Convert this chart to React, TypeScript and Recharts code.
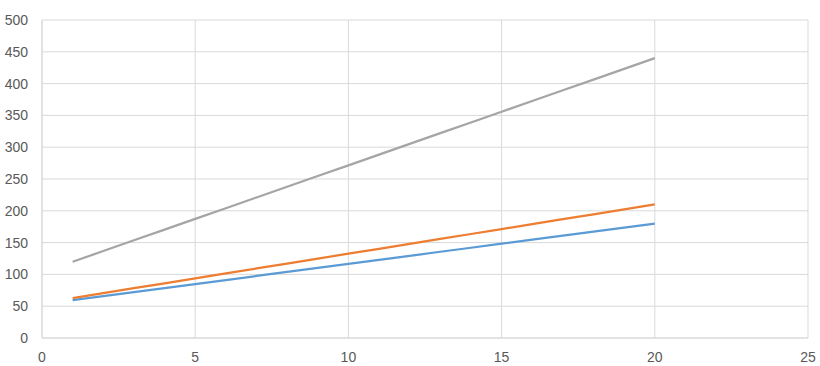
import { LineChart, Line, CartesianGrid, XAxis, YAxis } from "recharts";

const xValues = [1, 2, 3, 4, 5, 6, 7, 8, 9, 10, 11, 12, 13, 14, 15, 16, 17, 18, 19, 20];
const series1 = [59.4, 65.7, 72.1, 78.4, 84.8, 91.1, 97.5, 103.8, 110.2, 116.5, 122.9, 129.2, 135.6, 141.9, 148.3, 154.6, 161.0, 167.3, 173.7, 180.0];
const series2 = [62.8, 70.5, 78.3, 86.0, 93.8, 101.5, 109.3, 117.0, 124.8, 132.5, 140.3, 148.0, 155.8, 163.5, 171.3, 179.0, 186.8, 194.5, 202.3, 210.0];
const series3 = [119.9, 136.7, 153.6, 170.4, 187.3, 204.1, 221.0, 237.8, 254.7, 271.5, 288.4, 305.2, 322.1, 338.9, 355.8, 372.6, 389.5, 406.3, 423.2, 440.0];
const xTicks = [0, 5, 10, 15, 20, 25];
const yTicks = [0, 50, 100, 150, 200, 250, 300, 350, 400, 450, 500];

const data = xValues.map((x, i) => ({
  x,
  s1: series1[i],
  s2: series2[i],
  s3: series3[i],
}));

const grid = "#d9d9d9";
const tickStyle = { fill: "#595959", fontSize: 14, fontFamily: "'Liberation Sans', Arial, sans-serif" };

export default function App() {
  return (
    <div style={{ position: "absolute", left: 0, top: 0, width: 820, height: 366, background: "#fff" }}>
      <LineChart width={820} height={366} data={data} margin={{ top: 20, right: 12, bottom: 0, left: 0 }}>
        <CartesianGrid stroke={grid} strokeWidth={1} />
        <XAxis
          dataKey="x"
          type="number"
          domain={[0, 25]}
          ticks={xTicks}
          height={28}
          stroke={grid}
          tickLine={false}
          tickSize={0}
          tickMargin={14}
          tick={tickStyle}
        />
        <YAxis
          type="number"
          domain={[0, 500]}
          ticks={yTicks}
          width={42}
          stroke={grid}
          tickLine={false}
          tickSize={0}
          tickMargin={14}
          tick={tickStyle}
        />
        <Line dataKey="s1" name="Series1" stroke="#5b9bd5" strokeWidth={2.25} dot={false} isAnimationActive={false} />
        <Line dataKey="s2" name="Series2" stroke="#ed7d31" strokeWidth={2.25} dot={false} isAnimationActive={false} />
        <Line dataKey="s3" name="Series3" stroke="#a5a5a5" strokeWidth={2.25} dot={false} isAnimationActive={false} />
      </LineChart>
    </div>
  );
}
